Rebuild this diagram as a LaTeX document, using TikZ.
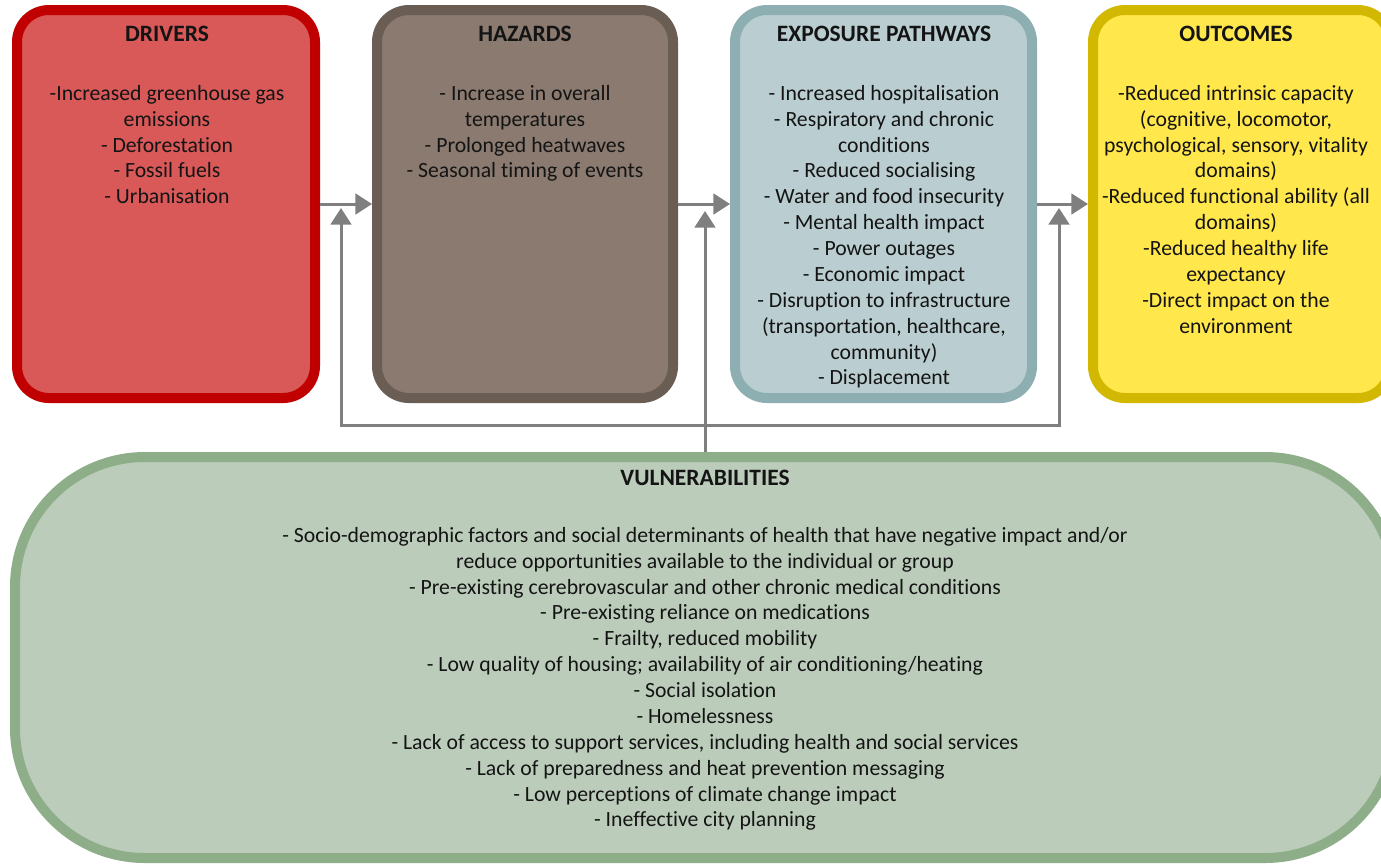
\documentclass[tikz,border=0pt]{standalone}
\usepackage{fontspec}
\setmainfont{Carlito}[Ligatures=NoCommon]
\usetikzlibrary{arrows.meta}
\definecolor{drvline}{RGB}{192,0,0}
\definecolor{drvfill}{RGB}{217,88,88}
\definecolor{hazline}{RGB}{106,93,83}
\definecolor{hazfill}{RGB}{139,122,111}
\definecolor{expline}{RGB}{141,175,177}
\definecolor{expfill}{RGB}{186,206,209}
\definecolor{outline}{RGB}{210,184,0}
\definecolor{outfill}{RGB}{255,231,76}
\definecolor{vulline}{RGB}{142,173,137}
\definecolor{vulfill}{RGB}{187,205,186}
\definecolor{arrowgray}{RGB}{127,127,127}
\definecolor{txt}{RGB}{20,20,20}

\begin{document}
\begin{tikzpicture}[x=0.75pt,y=-0.75pt,
    every node/.style={font=\fontsize{16.3}{19.4}\selectfont, align=center, inner sep=0, text=txt},
    title/.style={font=\fontsize{17.6}{19.4}\selectfont\bfseries},
    box/.style={rounded corners=24pt, line width=7.5pt, minimum height=291pt},
    flow/.style={draw=arrowgray, line width=2.25pt},
    >={Triangle[length=12.5pt,width=15.5pt]}]
    \useasboundingbox (0,0) rectangle (1381,865);

    \node[box, draw=drvline, fill=drvfill, minimum width=223.5pt] (drivers) at (166,204) {};
    \node[box, draw=hazline, fill=hazfill, minimum width=222pt] (hazards) at (525,204) {};
    \node[box, draw=expline, fill=expfill, minimum width=222.75pt] (exposure) at (883.5,204) {};
    \node[box, draw=outline, fill=outfill, minimum width=222.75pt] (outcomes) at (1241.5,204) {};
    \node[box, rounded corners=97.5pt, draw=vulline, fill=vulfill, minimum width=1035pt, minimum height=300.75pt] (vuln) at (705,657.5) {};

    \node[title, anchor=north] (drvT) at (167,26) {DRIVERS};
    \node[anchor=north] (drvB) at (167,85) {-Increased greenhouse gas\\emissions\\- Deforestation\\- Fossil fuels\\- Urbanisation};
    \node[title, anchor=north] (hazT) at (525,26) {HAZARDS};
    \node[anchor=north] (hazB) at (525,85) {- Increase in overall\\temperatures\\- Prolonged heatwaves\\- Seasonal timing of events};
    \node[title, anchor=north] (expT) at (884,26) {EXPOSURE PATHWAYS};
    \node[anchor=north] (expB) at (884,85) {- Increased hospitalisation\\- Respiratory and chronic\\conditions\\- Reduced socialising\\- Water and food insecurity\\- Mental health impact\\- Power outages\\- Economic impact\\- Disruption to infrastructure\\(transportation, healthcare,\\community)\\- Displacement};
    \node[title, anchor=north] (outT) at (1236,26) {OUTCOMES};
    \node[anchor=north] (outB) at (1236,85) {-Reduced intrinsic capacity\\(cognitive, locomotor,\\psychological, sensory, vitality\\domains)\\-Reduced functional ability (all\\domains)\\-Reduced healthy life\\expectancy\\-Direct impact on the\\environment};
    \node[title, anchor=north] (vulT) at (705,470) {VULNERABILITIES};
    \node[anchor=north] (vulB) at (705,527) {- Socio-demographic factors and social determinants of health that have negative impact and/or\\reduce opportunities available to the individual or group\\- Pre-existing cerebrovascular and other chronic medical conditions\\- Pre-existing reliance on medications\\- Frailty, reduced mobility\\- Low quality of housing; availability of air conditioning/heating\\- Social isolation\\- Homelessness\\- Lack of access to support services, including health and social services\\- Lack of preparedness and heat prevention messaging\\- Low perceptions of climate change impact\\- Ineffective city planning};

    \coordinate (tipL) at (341,208);
    \coordinate (jL) at (341,425);
    \coordinate (jR) at (1059,425);
    \coordinate (tipR) at (1059,208);
    \coordinate (tipM) at (705,211);

    \foreach \from/\to in
    {drivers/hazards,hazards/exposure,exposure/outcomes}
    \draw[flow,->] (\from) -- (\to);
    \draw[flow,<->] (tipL) -- (jL) -- (jR) -- (tipR);
    \draw[flow,->] (vuln) -- (tipM);
\end{tikzpicture}
\end{document}
